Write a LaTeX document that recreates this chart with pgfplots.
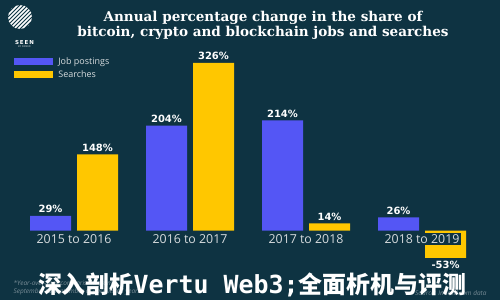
\documentclass[border=0pt]{standalone}
\usepackage{pgfplots}
\pgfplotsset{compat=1.18}
\usepackage{fontspec}
\setmainfont{Open Sans}
\newfontfamily\titlefont{DejaVu Serif}
\newfontfamily\valfont{DejaVu Sans}
\newfontfamily\wmono{DejaVu Sans Mono}
\newfontfamily\cjk{Noto Sans CJK SC}

\definecolor{bg}{RGB}{14,51,66}
\definecolor{jobblue}{RGB}{84,86,245}
\definecolor{srchyellow}{RGB}{255,199,0}
\definecolor{lbl}{RGB}{215,220,222}
\definecolor{note}{RGB}{120,140,150}

\begin{document}
\begin{tikzpicture}[x=1bp,y=1bp]
\useasboundingbox (0,0) rectangle (500,300);
\fill[bg] (0,0) rectangle (500,300);

% logo
\begin{scope}
  \clip (20,283) circle (12);
  \foreach \i in {-30,-26,...,30}
    \draw[white, line width=1.5bp] (20+\i-14,283-14) -- (20+\i+14,283+14);
\end{scope}
\node[white, font=\valfont\bfseries\fontsize{5.5}{6}\selectfont] at (24.5,257) {S\,E\,E\,N};
\node[lbl, font=\fontsize{2.5}{3}\selectfont] at (24.5,253) {BY INDEED};

% title
\node[white, align=center, font=\titlefont\bfseries\fontsize{13.6}{15.5}\selectfont] at (263,274.5)
  {Annual percentage change in the share of\\bitcoin, crypto and blockchain jobs and searches};

\begin{axis}[
    at={(16bp,17.8bp)}, anchor=south west,
    scale only axis,
    width=464bp, height=231.75bp,
    ybar=6bp,
    bar width=41bp,
    xmin=-0.5, xmax=3.5,
    ymin=-100, ymax=350,
    axis x line=middle,
    axis y line=none,
    x axis line style={draw=none},
    xtick=data,
    xticklabels={2015 to 2016, 2016 to 2017, 2017 to 2018, 2018 to 2019},
    major tick length=0pt,
    ytick=\empty,
    xticklabel style={font=\fontsize{12.4}{14}\selectfont, text=lbl, fill=bg, inner sep=1.5bp, yshift=-2.5bp},
    axis on top,
    /pgf/number format/assume math mode=true,
    nodes near coords={\pgfmathprintnumber{\pgfplotspointmeta}\%},
    every node near coord/.append style={font=\valfont\bfseries\fontsize{10}{12}\selectfont, text=white, inner sep=2.5bp},
    legend style={at={(-0.004,0.978)}, anchor=north west, draw=none, fill=none,
      font=\fontsize{9}{10}\selectfont, text=lbl, inner sep=0pt,
      row sep=0.5bp},
    legend cell align=left,
    legend image code/.code={\fill[#1] (0bp,-3.5bp) rectangle (39bp,3.5bp);},
    /tikz/every odd column/.append style={column sep=3bp},
]
\addplot[fill=jobblue, draw=none] coordinates {(0,29) (1,204) (2,214) (3,26)};
\addplot[fill=srchyellow, draw=none] coordinates {(0,148) (1,326) (2,14) (3,-53)};
\legend{Job postings, Searches}
\end{axis}

% footnotes
\node[note, anchor=west, align=left, font=\itshape\fontsize{6.5}{8}\selectfont] at (10,12)
  {*Year-over-year comparisons from\\September to September of each listed year.};
\node[note, anchor=east, font=\itshape\fontsize{6.5}{8}\selectfont] at (490,7) {Source: Indeed.com data};

% watermark
\node[white] at (252,15)
  {\cjk\bfseries\fontsize{24}{26}\selectfont 深入剖析{\wmono\bfseries\fontsize{25}{26}\selectfont Vertu Web3;}全面析机与评测};
\end{tikzpicture}
\end{document}
